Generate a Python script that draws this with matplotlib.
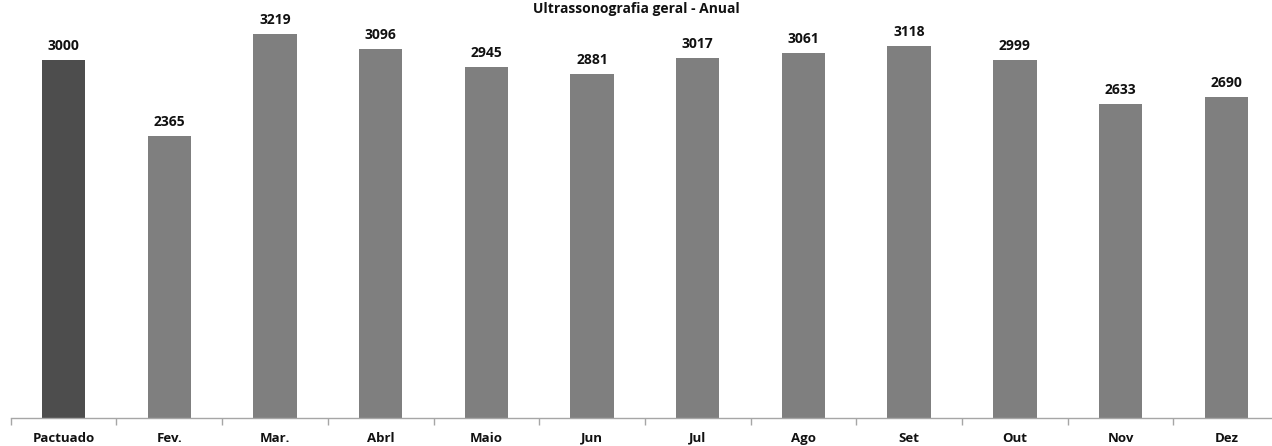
import matplotlib

matplotlib.use("Agg")
import matplotlib.pyplot as plt
import numpy as np

categories = ["Pactuado", "Fev.", "Mar.", "Abrl", "Maio", "Jun", "Jul", "Ago", "Set", "Out", "Nov", "Dez"]
values = [3000, 2365, 3219, 3096, 2945, 2881, 3017, 3061, 3118, 2999, 2633, 2690]
title = "Ultrassonografia geral - Anual"

plt.rcParams["font.family"] = ["Open Sans", "DejaVu Sans"]

W, H = 1272, 446
fig = plt.figure(figsize=(W / 100, H / 100), dpi=100)
# axes: left at 10.7 px, 105.7 px per category, baseline at 418 px
left = 10.7 / W
width = 105.7 * len(categories) / W
bottom = 28 / H
ymax = 3500
height = ymax * 0.1193 / H
ax = fig.add_axes([left, bottom, width, height])

x = np.arange(len(categories))
colors = ["#4d4d4d"] + ["#7f7f7f"] * (len(categories) - 1)
ax.bar(x, values, width=0.41, color=colors)
for xi, v in zip(x, values):
    ax.annotate(str(v), (xi, v), xytext=(0, 5), textcoords="offset points",
                ha="center", va="bottom", fontsize=10, fontweight="bold", color="#111111")

ax.set_xlim(-0.5, len(categories) - 0.5)
ax.set_ylim(0, ymax)
ax.set_xticks(x, categories, fontsize=9.5, fontweight="bold", color="#111111")
ax.set_xticks(np.arange(len(categories) + 1) - 0.5, minor=True)
ax.tick_params(axis="x", which="major", length=0, pad=10)
ax.tick_params(axis="x", which="minor", length=5, color="#a6a6a6", width=1)
ax.set_yticks([])
for s in ["top", "right", "left"]:
    ax.spines[s].set_visible(False)
ax.spines["bottom"].set_color("#a6a6a6")
ax.spines["bottom"].set_linewidth(1)

fig.text(0.5, 1 - 8.5 / H, title, ha="center", va="center", fontsize=10, fontweight="bold", color="#111111")
fig.savefig("out.png", dpi=100, facecolor="white")
